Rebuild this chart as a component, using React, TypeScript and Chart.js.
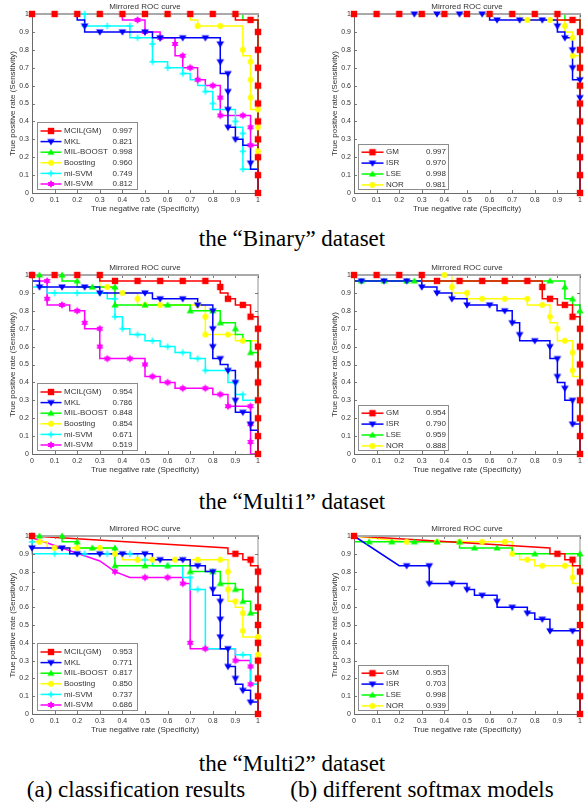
import React, { useEffect, useRef } from 'react';
import { Chart, registerables } from 'chart.js';
Chart.register(...registerables);

const SANS = '"Liberation Sans", Arial, Helvetica, sans-serif';
const SERIF = '"Liberation Serif", "Times New Roman", Times, serif';

// ---------- legends ----------
const methodsA = ['MCIL(GM)', 'MKL', 'MIL-BOOST', 'Boosting', 'mi-SVM', 'MI-SVM'];
const methodsB = ['GM', 'ISR', 'LSE', 'NOR'];
const colorsA = ['#ff0000', '#0000ff', '#00ff00', '#ffff00', '#00ffff', '#ff00ff'];
const colorsB = ['#ff0000', '#0000ff', '#00ff00', '#ffff00'];
const markersA = ['square', 'tdown', 'tup', 'circle', 'plus', 'hex'];
const markersB = ['square', 'tdown', 'tup', 'circle'];

const aucBinaryA = [0.997, 0.821, 0.998, 0.96, 0.749, 0.812];
const aucBinaryB = [0.997, 0.97, 0.998, 0.981];
const aucMulti1A = [0.954, 0.786, 0.848, 0.854, 0.671, 0.519];
const aucMulti1B = [0.954, 0.79, 0.959, 0.888];
const aucMulti2A = [0.953, 0.771, 0.817, 0.85, 0.737, 0.686];
const aucMulti2B = [0.953, 0.703, 0.998, 0.939];

const chartTitle = 'Mirrored ROC curve';
const xTitle = 'True negative rate (Specificity)';
const yTitle = 'True positive rate (Sensitivity)';

// ---------- Binary (a) : curve vertices [x,y,...] and marker points ----------
const binA_mcil = [0, 1, 0.9, 1, 0.9, 0.967, 1, 0.967, 1, 0];
const binA_mcil_m = [0, 1, 0.1, 1, 0.2, 1, 0.3, 1, 0.4, 1, 0.5, 1, 0.6, 1, 0.7, 1, 0.8, 1, 0.9, 1, 0.967, 0.967, 1, 0.9, 1, 0.8, 1, 0.7, 1, 0.6, 1, 0.5, 1, 0.4, 1, 0.3, 1, 0.2, 1, 0.1, 1, 0];
const binA_mkl = [0, 1, 0.2, 1, 0.2, 0.967, 0.233, 0.967, 0.233, 0.9, 0.533, 0.9, 0.533, 0.867, 0.833, 0.867, 0.833, 0.667, 0.867, 0.667, 0.867, 0.367, 0.9, 0.367, 0.9, 0.3, 0.933, 0.3, 0.933, 0.267, 0.967, 0.267, 0.967, 0.133, 1, 0.133, 1, 0];
const binA_mkl_m = [0.233, 0.933, 0.3, 0.9, 0.4, 0.9, 0.5, 0.9, 0.567, 0.867, 0.667, 0.867, 0.767, 0.867, 0.833, 0.833, 0.833, 0.733, 0.867, 0.667, 0.867, 0.567, 0.867, 0.467, 0.867, 0.367, 0.9, 0.3, 0.967, 0.167];
const binA_milb = [0, 1, 0.933, 1, 0.933, 0.967, 1, 0.967, 1, 0];
const binA_milb_m = [0.3, 1, 0.6, 1, 0.9, 1, 1, 0.6, 1, 0.3];
const binA_boost = [0, 1, 0.7, 1, 0.7, 0.967, 0.733, 0.967, 0.733, 0.933, 0.933, 0.933, 0.933, 0.767, 0.967, 0.767, 0.967, 0.467, 1, 0.467, 1, 0];
const binA_boost_m = [0.733, 0.933, 0.833, 0.933, 0.933, 0.8, 0.967, 0.733, 0.967, 0.633, 0.967, 0.533, 1, 0.467, 1, 0.367, 1, 0.233];
const binA_misvm = [0, 1, 0.233, 1, 0.233, 0.933, 0.433, 0.933, 0.433, 0.867, 0.533, 0.867, 0.533, 0.733, 0.6, 0.733, 0.6, 0.7, 0.667, 0.7, 0.667, 0.667, 0.7, 0.667, 0.7, 0.633, 0.733, 0.633, 0.733, 0.6, 0.767, 0.6, 0.767, 0.567, 0.8, 0.567, 0.8, 0.467, 0.9, 0.467, 0.9, 0.367, 0.933, 0.367, 0.933, 0.133, 1, 0.133, 1, 0];
const binA_misvm_m = [0.233, 1, 0.233, 0.933, 0.333, 0.933, 0.433, 0.933, 0.467, 0.867, 0.533, 0.833, 0.533, 0.733, 0.6, 0.7, 0.667, 0.667, 0.767, 0.567, 0.8, 0.5, 0.9, 0.4, 0.933, 0.333, 0.933, 0.233, 0.933, 0.133];
const binA_MIsvm = [0, 1, 0.4, 1, 0.4, 0.967, 0.5, 0.967, 0.5, 0.9, 0.567, 0.9, 0.567, 0.867, 0.633, 0.867, 0.633, 0.767, 0.667, 0.767, 0.667, 0.7, 0.733, 0.7, 0.733, 0.633, 0.767, 0.633, 0.767, 0.6, 0.833, 0.6, 0.833, 0.433, 0.967, 0.433, 0.967, 0.267, 1, 0.267, 1, 0];
const binA_MIsvm_m = [0.467, 0.967, 0.5, 0.9, 0.567, 0.867, 0.633, 0.833, 0.667, 0.767, 0.7, 0.7, 0.733, 0.633, 0.8, 0.6, 0.833, 0.533, 0.833, 0.433, 0.933, 0.433, 0.967, 0.367, 0.967, 0.267];

// ---------- Binary (b) ----------
const binB_gm = [0, 1, 0.9, 1, 0.9, 0.967, 1, 0.967, 1, 0];
const binB_gm_m = [0, 1, 0.1, 1, 0.2, 1, 0.3, 1, 0.4, 1, 0.5, 1, 0.6, 1, 0.7, 1, 0.8, 1, 0.9, 1, 0.967, 0.967, 1, 0.9, 1, 0.8, 1, 0.7, 1, 0.6, 1, 0.5, 1, 0.4, 1, 0.3, 1, 0.2, 1, 0.1, 1, 0];
const binB_isr = [0, 1, 0.6, 1, 0.6, 0.967, 0.9, 0.967, 0.9, 0.9, 0.933, 0.9, 0.933, 0.867, 0.967, 0.867, 0.967, 0.633, 1, 0.633, 1, 0];
const binB_isr_m = [0.267, 1, 0.367, 1, 0.467, 1, 0.567, 1, 0.633, 0.967, 0.733, 0.967, 0.833, 0.967, 0.9, 0.933, 0.933, 0.867, 0.967, 0.8, 0.967, 0.7, 1, 0.633, 1, 0.533];
const binB_lse = [0, 1, 0.933, 1, 0.933, 0.967, 1, 0.967, 1, 0];
const binB_lse_m = [0.3, 1, 0.6, 1, 1, 0.6, 1, 0.3];
const binB_nor = [0, 1, 0.733, 1, 0.733, 0.967, 0.933, 0.967, 0.933, 0.9, 0.967, 0.9, 0.967, 0.767, 1, 0.767, 1, 0];
const binB_nor_m = [0.767, 0.967, 0.867, 0.967, 0.933, 0.933, 0.967, 0.867, 0.967, 0.767];

// ---------- Multi1 (a) ----------
const m1A_mcil = [0, 1, 0.3, 1, 0.3, 0.967, 0.833, 0.967, 0.833, 0.9, 0.867, 0.9, 0.867, 0.867, 0.9, 0.867, 0.9, 0.833, 0.967, 0.833, 0.967, 0.767, 1, 0.767, 1, 0];
const m1A_mcil_m = [0, 1, 0.1, 1, 0.2, 1, 0.3, 1, 0.367, 0.967, 0.467, 0.967, 0.567, 0.967, 0.667, 0.967, 0.767, 0.967, 0.833, 0.933, 0.867, 0.867, 0.933, 0.833, 0.967, 0.767, 1, 0.7, 1, 0.6, 1, 0.5, 1, 0.4, 1, 0.3, 1, 0.2, 1, 0.1, 1, 0];
const m1A_mkl = [0, 0.967, 0.033, 0.967, 0.033, 0.933, 0.3, 0.933, 0.3, 0.9, 0.533, 0.9, 0.533, 0.867, 0.733, 0.867, 0.733, 0.833, 0.8, 0.833, 0.8, 0.533, 0.833, 0.533, 0.833, 0.5, 0.867, 0.5, 0.867, 0.467, 0.9, 0.467, 0.9, 0.233, 0.967, 0.233, 0.967, 0.133, 1, 0.133, 1, 0];
const m1A_mkl_m = [0.033, 0.933, 0.133, 0.933, 0.233, 0.933, 0.3, 0.9, 0.5, 0.9, 0.567, 0.867, 0.667, 0.867, 0.733, 0.833, 0.8, 0.8, 0.8, 0.7, 0.8, 0.6, 0.833, 0.533, 0.867, 0.467, 0.9, 0.4, 0.9, 0.3, 0.933, 0.233, 0.967, 0.167];
const m1A_milb = [0, 1, 0.133, 1, 0.133, 0.967, 0.2, 0.967, 0.2, 0.933, 0.367, 0.933, 0.367, 0.833, 0.7, 0.833, 0.7, 0.8, 0.833, 0.8, 0.833, 0.733, 0.9, 0.733, 0.9, 0.667, 0.933, 0.667, 0.933, 0.633, 0.967, 0.633, 0.967, 0.567, 1, 0.567, 1, 0];
const m1A_milb_m = [0.033, 1, 0.133, 1, 0.2, 0.967, 0.267, 0.933, 0.367, 0.933, 0.367, 0.833, 0.5, 0.833, 0.6, 0.833, 0.7, 0.8, 0.8, 0.8, 0.833, 0.733, 0.9, 0.7, 0.967, 0.567];
const m1A_boost = [0, 1, 0.3, 1, 0.3, 0.933, 0.367, 0.933, 0.367, 0.9, 0.467, 0.9, 0.467, 0.833, 0.767, 0.833, 0.767, 0.667, 0.9, 0.667, 0.9, 0.633, 1, 0.633, 1, 0];
const m1A_boost_m = [0.333, 0.933, 0.4, 0.9, 0.467, 0.867, 0.5, 0.833, 0.567, 0.833, 0.733, 0.833, 0.767, 0.767, 0.767, 0.667, 0.867, 0.667, 0.933, 0.633];
const m1A_misvm = [0, 0.933, 0.067, 0.933, 0.067, 0.9, 0.333, 0.9, 0.333, 0.867, 0.367, 0.867, 0.367, 0.767, 0.4, 0.767, 0.4, 0.7, 0.433, 0.7, 0.433, 0.667, 0.5, 0.667, 0.5, 0.633, 0.567, 0.633, 0.567, 0.6, 0.633, 0.6, 0.633, 0.567, 0.7, 0.567, 0.7, 0.533, 0.767, 0.533, 0.767, 0.467, 0.867, 0.467, 0.867, 0.4, 0.9, 0.4, 0.9, 0.333, 0.933, 0.333, 0.933, 0.3, 1, 0.3, 1, 0];
const m1A_misvm_m = [0.1, 0.9, 0.2, 0.9, 0.3, 0.9, 0.367, 0.867, 0.367, 0.767, 0.4, 0.7, 0.467, 0.667, 0.533, 0.633, 0.6, 0.6, 0.667, 0.567, 0.733, 0.533, 0.767, 0.467, 0.867, 0.467, 0.9, 0.4, 0.933, 0.333, 1, 0.3];
const m1A_MIsvm = [0, 1, 0.033, 1, 0.033, 0.967, 0.067, 0.967, 0.067, 0.833, 0.167, 0.833, 0.167, 0.8, 0.233, 0.8, 0.233, 0.7, 0.3, 0.7, 0.3, 0.533, 0.5, 0.533, 0.5, 0.433, 0.567, 0.433, 0.567, 0.4, 0.633, 0.4, 0.633, 0.367, 0.8, 0.367, 0.8, 0.333, 0.867, 0.333, 0.867, 0.267, 0.967, 0.267, 0.967, 0, 1, 0];
const m1A_MIsvm_m = [0, 1, 0.067, 0.967, 0.067, 0.867, 0.133, 0.833, 0.2, 0.8, 0.233, 0.733, 0.3, 0.7, 0.3, 0.6, 0.333, 0.533, 0.433, 0.533, 0.5, 0.5, 0.533, 0.433, 0.6, 0.4, 0.667, 0.367, 0.767, 0.367, 0.833, 0.333, 0.867, 0.267, 0.967, 0.267, 0.967, 0.167, 0.967, 0.067];

// ---------- Multi1 (b) ----------
const m1B_gm = [0, 1, 0.3, 1, 0.3, 0.967, 0.833, 0.967, 0.833, 0.867, 0.9, 0.867, 0.9, 0.833, 0.967, 0.833, 0.967, 0.767, 1, 0.767, 1, 0];
const m1B_gm_m = [0, 1, 0.1, 1, 0.2, 1, 0.3, 1, 0.367, 0.967, 0.467, 0.967, 0.567, 0.967, 0.667, 0.967, 0.767, 0.967, 0.833, 0.933, 0.867, 0.867, 0.933, 0.833, 0.967, 0.767, 1, 0.7, 1, 0.6, 1, 0.5, 1, 0.4, 1, 0.3, 1, 0.2, 1, 0.1, 1, 0];
const m1B_isr = [0, 0.967, 0.3, 0.967, 0.3, 0.933, 0.367, 0.933, 0.367, 0.9, 0.433, 0.9, 0.433, 0.867, 0.5, 0.867, 0.5, 0.833, 0.633, 0.833, 0.633, 0.8, 0.7, 0.8, 0.7, 0.733, 0.733, 0.733, 0.733, 0.633, 0.867, 0.633, 0.867, 0.533, 0.9, 0.533, 0.9, 0.4, 0.933, 0.4, 0.933, 0.3, 0.967, 0.3, 0.967, 0.167, 1, 0.167, 1, 0];
const m1B_isr_m = [0.033, 0.967, 0.133, 0.967, 0.233, 0.967, 0.3, 0.933, 0.367, 0.9, 0.433, 0.867, 0.5, 0.833, 0.6, 0.833, 0.667, 0.8, 0.7, 0.733, 0.733, 0.667, 0.8, 0.633, 0.867, 0.6, 0.9, 0.533, 0.9, 0.433, 0.933, 0.367, 0.967, 0.3, 0.967, 0.167];
const m1B_lse = [0, 0.967, 0.933, 0.967, 0.933, 0.867, 0.967, 0.867, 0.967, 0.833, 1, 0.833, 1, 0];
const m1B_lse_m = [0.033, 0.967, 0.133, 0.967, 0.233, 0.967, 0.267, 0.967, 0.867, 0.967, 0.933, 0.933, 0.967, 0.867, 1, 0.8];
const m1B_nor = [0, 1, 0.433, 1, 0.433, 0.9, 0.5, 0.9, 0.5, 0.867, 0.767, 0.867, 0.767, 0.833, 0.867, 0.833, 0.867, 0.733, 0.9, 0.733, 0.9, 0.633, 0.967, 0.633, 0.967, 0.433, 1, 0.433, 1, 0];
const m1B_nor_m = [0.4, 1, 0.433, 0.933, 0.5, 0.9, 0.567, 0.867, 0.667, 0.867, 0.767, 0.867, 0.833, 0.833, 0.867, 0.767, 0.9, 0.7, 0.933, 0.633, 0.967, 0.567, 0.967, 0.467];

// ---------- Multi2 (a) ----------
const m2A_mcil = [0, 1, 0.867, 0.933, 0.867, 0.9, 0.933, 0.9, 0.933, 0.867, 0.967, 0.867, 0.967, 0.833, 1, 0.833, 1, 0];
const m2A_mcil_m = [0, 1, 0.9, 0.9, 0.967, 0.867, 1, 0.8, 1, 0.7, 1, 0.6, 1, 0.5, 1, 0.4, 1, 0.3, 1, 0.2, 1, 0.1, 1, 0];
const m2A_mkl = [0, 0.933, 0.167, 0.933, 0.167, 0.9, 0.533, 0.9, 0.533, 0.867, 0.7, 0.867, 0.7, 0.833, 0.767, 0.833, 0.767, 0.8, 0.8, 0.8, 0.8, 0.667, 0.833, 0.667, 0.833, 0.367, 0.867, 0.367, 0.867, 0.267, 0.9, 0.267, 0.9, 0.167, 0.933, 0.167, 0.933, 0.133, 0.967, 0.133, 0.967, 0.067, 1, 0.067, 1, 0];
const m2A_mkl_m = [0, 0.933, 0.133, 0.933, 0.2, 0.9, 0.3, 0.9, 0.4, 0.9, 0.5, 0.9, 0.567, 0.867, 0.667, 0.867, 0.733, 0.833, 0.8, 0.8, 0.8, 0.7, 0.833, 0.633, 0.833, 0.533, 0.833, 0.433, 0.867, 0.367, 0.867, 0.267, 0.9, 0.2, 0.933, 0.133, 0.967, 0.067];
const m2A_milb = [0, 1, 0.133, 1, 0.133, 0.967, 0.2, 0.967, 0.2, 0.933, 0.367, 0.933, 0.367, 0.833, 0.7, 0.833, 0.7, 0.8, 0.833, 0.8, 0.833, 0.733, 0.9, 0.733, 0.9, 0.7, 0.933, 0.7, 0.933, 0.633, 0.967, 0.633, 0.967, 0.567, 1, 0.567, 1, 0];
const m2A_milb_m = [0.033, 1, 0.133, 1, 0.2, 0.967, 0.267, 0.933, 0.367, 0.933, 0.367, 0.833, 0.5, 0.833, 0.6, 0.833, 0.7, 0.8, 0.8, 0.8, 0.833, 0.733, 0.9, 0.7, 0.933, 0.633, 0.967, 0.567];
const m2A_boost = [0, 0.967, 0.067, 0.967, 0.067, 0.933, 0.367, 0.933, 0.367, 0.9, 0.4, 0.9, 0.4, 0.867, 0.867, 0.867, 0.867, 0.633, 0.9, 0.633, 0.9, 0.6, 0.933, 0.6, 0.933, 0.433, 1, 0.433, 1, 0];
const m2A_boost_m = [0.033, 0.967, 0.1, 0.933, 0.2, 0.933, 0.3, 0.933, 0.367, 0.9, 0.467, 0.867, 0.533, 0.867, 0.633, 0.867, 0.733, 0.867, 0.833, 0.867, 0.867, 0.8, 0.867, 0.7, 0.9, 0.633, 0.933, 0.567, 0.933, 0.467, 1, 0.433, 1, 0.333];
const m2A_misvm = [0, 0.967, 0, 0.9, 0.467, 0.9, 0.467, 0.867, 0.533, 0.867, 0.533, 0.833, 0.667, 0.833, 0.667, 0.767, 0.7, 0.767, 0.7, 0.7, 0.767, 0.7, 0.767, 0.367, 0.9, 0.367, 0.9, 0.333, 0.967, 0.333, 0.967, 0.167, 1, 0.167, 1, 0];
const m2A_misvm_m = [0, 0.967, 0.1, 0.9, 0.233, 0.9, 0.333, 0.9, 0.433, 0.9, 0.5, 0.867, 0.6, 0.833, 0.7, 0.767, 0.733, 0.7, 0.933, 0.333];
const m2A_MIsvm = [0, 0.99, 0.3, 0.86, 0.367, 0.8, 0.433, 0.767, 0.667, 0.767, 0.667, 0.733, 0.7, 0.733, 0.7, 0.367, 0.9, 0.367, 0.9, 0.3, 0.967, 0.3, 0.967, 0.167, 1, 0.167, 1, 0];
const m2A_MIsvm_m = [0, 1, 0.367, 0.8, 0.5, 0.767, 0.6, 0.767, 0.667, 0.733, 0.7, 0.4, 0.767, 0.367, 0.9, 0.3, 0.967, 0.267, 0.967, 0.167];

// ---------- Multi2 (b) ----------
const m2B_gm = [0, 1, 0.867, 0.933, 0.867, 0.9, 0.933, 0.9, 0.933, 0.867, 0.967, 0.867, 0.967, 0.833, 1, 0.833, 1, 0];
const m2B_gm_m = [0, 1, 0.9, 0.9, 0.967, 0.867, 1, 0.8, 1, 0.7, 1, 0.6, 1, 0.5, 1, 0.4, 1, 0.3, 1, 0.2, 1, 0.1, 1, 0];
const m2B_isr = [0, 1, 0.2, 0.833, 0.333, 0.833, 0.333, 0.733, 0.5, 0.733, 0.5, 0.7, 0.533, 0.7, 0.533, 0.667, 0.633, 0.667, 0.633, 0.6, 0.767, 0.6, 0.767, 0.567, 0.8, 0.567, 0.8, 0.533, 0.867, 0.533, 0.867, 0.467, 1, 0.467, 1, 0];
const m2B_isr_m = [0.233, 0.833, 0.333, 0.833, 0.333, 0.733, 0.433, 0.733, 0.5, 0.7, 0.567, 0.667, 0.633, 0.633, 0.7, 0.6, 0.767, 0.567, 0.833, 0.533, 0.867, 0.467, 0.967, 0.467];
const m2B_lse = [0, 0.967, 0.467, 0.967, 0.467, 0.933, 0.7, 0.933, 0.7, 0.9, 1, 0.9, 1, 0];
const m2B_lse_m = [0.067, 0.967, 0.167, 0.967, 0.267, 0.967, 0.367, 0.967, 0.467, 0.967, 0.533, 0.933, 0.633, 0.933, 0.8, 0.9, 1, 0.9];
const m2B_nor = [0, 1, 0.233, 0.967, 0.7, 0.967, 0.7, 0.9, 0.733, 0.9, 0.733, 0.867, 0.8, 0.867, 0.8, 0.833, 0.967, 0.833, 0.967, 0.733, 1, 0.733, 1, 0];
const m2B_nor_m = [0.233, 0.967, 0.367, 0.967, 0.467, 0.967, 0.567, 0.967, 0.667, 0.967, 0.7, 0.9, 0.767, 0.867, 0.833, 0.833, 0.933, 0.833, 0.967, 0.767];

// ---------- captions ----------
const datasetCaptions = ['the \u201cBinary\u201d dataset', 'the \u201cMulti1\u201d dataset', 'the \u201cMulti2\u201d dataset'];
const subCaptions = ['(a) classification results', '(b) different softmax models'];

type Panel = {
  left: number; top: number; w: number; h: number; padR: number;
  labels: string[]; colors: string[]; markers: string[]; auc: number[];
  curves: number[][][];
};

const panels: Panel[] = [
  { left: 32, top: 14, w: 226, h: 179, padR: 12, labels: methodsA, colors: colorsA, markers: markersA, auc: aucBinaryA,
    curves: [[binA_mcil, binA_mcil_m], [binA_mkl, binA_mkl_m], [binA_milb, binA_milb_m], [binA_boost, binA_boost_m], [binA_misvm, binA_misvm_m], [binA_MIsvm, binA_MIsvm_m]] },
  { left: 354, top: 14, w: 228, h: 179, padR: 2, labels: methodsB, colors: colorsB, markers: markersB, auc: aucBinaryB,
    curves: [[binB_gm, binB_gm_m], [binB_isr, binB_isr_m], [binB_lse, binB_lse_m], [binB_nor, binB_nor_m]] },
  { left: 32, top: 275, w: 226, h: 179, padR: 12, labels: methodsA, colors: colorsA, markers: markersA, auc: aucMulti1A,
    curves: [[m1A_mcil, m1A_mcil_m], [m1A_mkl, m1A_mkl_m], [m1A_milb, m1A_milb_m], [m1A_boost, m1A_boost_m], [m1A_misvm, m1A_misvm_m], [m1A_MIsvm, m1A_MIsvm_m]] },
  { left: 354, top: 275, w: 228, h: 179, padR: 2, labels: methodsB, colors: colorsB, markers: markersB, auc: aucMulti1B,
    curves: [[m1B_gm, m1B_gm_m], [m1B_isr, m1B_isr_m], [m1B_lse, m1B_lse_m], [m1B_nor, m1B_nor_m]] },
  { left: 32, top: 536, w: 226, h: 178, padR: 12, labels: methodsA, colors: colorsA, markers: markersA, auc: aucMulti2A,
    curves: [[m2A_mcil, m2A_mcil_m], [m2A_mkl, m2A_mkl_m], [m2A_milb, m2A_milb_m], [m2A_boost, m2A_boost_m], [m2A_misvm, m2A_misvm_m], [m2A_MIsvm, m2A_MIsvm_m]] },
  { left: 354, top: 536, w: 228, h: 178, padR: 2, labels: methodsB, colors: colorsB, markers: markersB, auc: aucMulti2B,
    curves: [[m2B_gm, m2B_gm_m], [m2B_isr, m2B_isr_m], [m2B_lse, m2B_lse_m], [m2B_nor, m2B_nor_m]] },
];

const PAD_TOP = 14;
const Y_AXIS_W = 32;
const X_AXIS_H = 24;

function pairs(a: number[]) {
  const out: { x: number; y: number }[] = [];
  for (let i = 0; i + 1 < a.length; i += 2) out.push({ x: a[i], y: a[i + 1] });
  return out;
}

function makeMarker(kind: string, color: string): HTMLCanvasElement {
  const c = document.createElement('canvas');
  c.width = 10; c.height = 10;
  const g = c.getContext('2d')!;
  const m = 5;
  g.fillStyle = color; g.strokeStyle = color;
  if (kind === 'square') {
    g.fillRect(m - 3.2, m - 3.2, 6.4, 6.4);
  } else if (kind === 'tdown') {
    g.beginPath(); g.moveTo(m - 3.8, m - 2.6); g.lineTo(m + 3.8, m - 2.6); g.lineTo(m, m + 3.7); g.closePath(); g.fill();
  } else if (kind === 'tup') {
    g.beginPath(); g.moveTo(m - 3.6, m + 2.6); g.lineTo(m + 3.6, m + 2.6); g.lineTo(m, m - 3.5); g.closePath(); g.fill();
  } else if (kind === 'circle') {
    g.beginPath(); g.arc(m, m, 2.9, 0, Math.PI * 2); g.fill();
  } else if (kind === 'plus') {
    g.lineWidth = 1.3;
    g.beginPath(); g.moveTo(m - 3.2, m); g.lineTo(m + 3.2, m); g.moveTo(m, m - 3.2); g.lineTo(m, m + 3.2); g.stroke();
    g.beginPath(); g.arc(m, m, 1.3, 0, Math.PI * 2); g.fill();
  } else if (kind === 'hex') {
    const r = 3.9;
    g.beginPath();
    for (let k = 0; k < 3; k++) {
      const ang = -Math.PI / 2 + (k * 2 * Math.PI) / 3;
      const px = m + r * Math.cos(ang), py = m + r * Math.sin(ang);
      if (k === 0) g.moveTo(px, py); else g.lineTo(px, py);
    }
    g.closePath();
    for (let k = 0; k < 3; k++) {
      const ang = Math.PI / 2 + (k * 2 * Math.PI) / 3;
      const px = m + r * Math.cos(ang), py = m + r * Math.sin(ang);
      if (k === 0) g.moveTo(px, py); else g.lineTo(px, py);
    }
    g.closePath();
    g.fill();
  }
  return c;
}

function makePanelPlugin(p: Panel, imgs: HTMLCanvasElement[]) {
  let frameDone = false;
  const drawFrame = (chart: any) => {
    const { ctx, chartArea: a } = chart;
    const xs = chart.scales.x, ys = chart.scales.y;
    ctx.save();
    ctx.strokeStyle = '#7a7a7a';
    ctx.lineWidth = 1;
    ctx.beginPath();
    xs.ticks.forEach((t: any) => {
      const px = Math.round(xs.getPixelForValue(t.value)) + 0.5;
      ctx.moveTo(px, a.bottom); ctx.lineTo(px, a.bottom - 3);
      ctx.moveTo(px, a.top); ctx.lineTo(px, a.top + 3);
    });
    ys.ticks.forEach((t: any) => {
      const py = Math.round(ys.getPixelForValue(t.value)) + 0.5;
      ctx.moveTo(a.left, py); ctx.lineTo(a.left + 3, py);
      ctx.moveTo(a.right, py); ctx.lineTo(a.right - 3, py);
    });
    ctx.stroke();
    ctx.strokeStyle = '#6a6a6a';
    ctx.beginPath();
    ctx.moveTo(a.left + 0.5, a.top);
    ctx.lineTo(a.left + 0.5, a.bottom + 0.5);
    ctx.lineTo(a.right, a.bottom + 0.5);
    ctx.stroke();
    ctx.strokeStyle = 'rgba(60,60,60,0.55)';
    ctx.beginPath();
    ctx.moveTo(a.right, a.top); ctx.lineTo(a.right, a.bottom);
    ctx.stroke();
    ctx.strokeStyle = '#a9a9a9';
    ctx.lineWidth = 2;
    ctx.beginPath();
    ctx.moveTo(a.left, a.top); ctx.lineTo(a.right + 1, a.top);
    ctx.stroke();
    ctx.restore();
  };
  const drawTexts = (chart: any) => {
    const { ctx, chartArea: a } = chart;
    ctx.save();
    ctx.fillStyle = '#333';
    ctx.font = `8px ${SANS}`;
    ctx.textAlign = 'center';
    ctx.textBaseline = 'middle';
    const cx = (a.left + a.right) / 2;
    ctx.fillText(chartTitle, cx, a.top - 7.5);
    ctx.fillText(xTitle, cx, a.bottom + 16);
    ctx.translate(a.left - 19, (a.top + a.bottom) / 2);
    ctx.rotate(-Math.PI / 2);
    ctx.fillText(yTitle, 0, 0);
    ctx.restore();
  };
  const drawLegend = (chart: any) => {
    const { ctx, chartArea: a } = chart;
    const six = p.labels.length === 6;
    const bw = six ? 100 : 90;
    const bh = six ? 67 : 45;
    const rowH = six ? 10.6 : 10.9;
    const bx = Math.round(a.left + (six ? 5 : 4)) + 0.5;
    const by = Math.round(a.bottom - 4 - bh) + 0.5;
    ctx.save();
    ctx.fillStyle = '#fff';
    ctx.fillRect(bx, by, bw, bh);
    ctx.strokeStyle = '#8c8c8c';
    ctx.lineWidth = 1;
    ctx.strokeRect(bx, by, bw, bh);
    ctx.font = `8px ${SANS}`;
    ctx.textBaseline = 'middle';
    p.labels.forEach((lab, i) => {
      const cy = by + (six ? 8.5 : 7.7) + i * rowH;
      const x0 = bx + 3, x1 = bx + (six ? 24 : 25);
      ctx.strokeStyle = p.colors[i];
      ctx.lineWidth = 1.5;
      ctx.beginPath(); ctx.moveTo(x0, cy); ctx.lineTo(x1, cy); ctx.stroke();
      ctx.drawImage(imgs[i], (x0 + x1) / 2 - 5, cy - 5);
      ctx.fillStyle = '#333';
      ctx.textAlign = 'left';
      ctx.fillText(lab, bx + (six ? 26.5 : 27.5), cy);
      ctx.textAlign = 'right';
      ctx.fillText(p.auc[i].toFixed(3), bx + bw - (six ? 5 : 2.5), cy);
    });
    ctx.restore();
  };
  return {
    id: 'rocPanel',
    beforeDatasetsDraw() { frameDone = false; },
    beforeDatasetDraw(chart: any, args: any) {
      if (!frameDone && chart.data.datasets[args.index].isMarker) { drawFrame(chart); frameDone = true; }
    },
    afterDatasetsDraw(chart: any) {
      if (!frameDone) { drawFrame(chart); frameDone = true; }
      drawLegend(chart);
      drawTexts(chart);
    },
  };
}

function RocPanel({ p }: { p: Panel }) {
  const ref = useRef<HTMLCanvasElement>(null);
  const cw = p.w + Y_AXIS_W + p.padR;
  const ch = p.h + PAD_TOP + X_AXIS_H;
  useEffect(() => {
    const canvas = ref.current;
    if (!canvas) return;
    const imgs = p.markers.map((m, i) => makeMarker(m, p.colors[i]));
    const datasets: any[] = [];
    p.curves.forEach((c, i) => {
      datasets.push({
        data: pairs(c[0]), showLine: true, borderColor: p.colors[i], backgroundColor: p.colors[i],
        borderWidth: 1.5, pointRadius: 0, pointHoverRadius: 0, tension: 0, fill: false,
        borderJoinStyle: 'miter', clip: false, order: 2, isMarker: false,
      });
    });
    p.curves.forEach((c, i) => {
      datasets.push({
        data: pairs(c[1]), showLine: false, pointStyle: imgs[i], pointRadius: 4, pointHoverRadius: 4,
        borderWidth: 0, backgroundColor: p.colors[i], borderColor: p.colors[i], clip: false, order: 1, isMarker: true,
      });
    });
    const tickFont = { family: SANS, size: 7 };
    const fmt = (v: any) => { const s = Number(v).toFixed(1); return s.endsWith('.0') ? s.slice(0, -2) : s; };
    const chart = new Chart(canvas, {
      type: 'scatter',
      data: { datasets },
      options: {
        animation: false,
        responsive: false,
        devicePixelRatio: 1,
        events: [],
        layout: { padding: { top: PAD_TOP, right: p.padR, left: 0, bottom: 0 } },
        plugins: { legend: { display: false }, tooltip: { enabled: false }, title: { display: false } },
        scales: {
          x: {
            type: 'linear', min: 0, max: 1,
            grid: { display: false, drawTicks: false },
            border: { display: false },
            ticks: { stepSize: 0.1, autoSkip: false, maxRotation: 0, padding: 2.5, font: tickFont, color: '#333', callback: fmt },
            afterFit: (s: any) => { s.height = X_AXIS_H; s.paddingLeft = 0; s.paddingRight = 0; },
          },
          y: {
            type: 'linear', min: 0, max: 1,
            grid: { display: false, drawTicks: false },
            border: { display: false },
            ticks: { stepSize: 0.1, autoSkip: false, padding: 3, font: tickFont, color: '#333', callback: fmt },
            afterFit: (s: any) => { s.width = Y_AXIS_W; s.paddingTop = 0; s.paddingBottom = 0; },
          },
        },
      } as any,
      plugins: [makePanelPlugin(p, imgs)],
    });
    return () => chart.destroy();
  }, []);
  return (
    <canvas
      ref={ref}
      width={cw}
      height={ch}
      style={{ position: 'absolute', left: p.left - Y_AXIS_W, top: p.top - PAD_TOP, width: cw, height: ch }}
    />
  );
}

const captionCenters = [239, 502, 764];

export default function App() {
  const capStyle: React.CSSProperties = {
    position: 'absolute', left: 0, width: 584, textAlign: 'center', fontFamily: SERIF,
    fontSize: 23, lineHeight: '26px', color: '#000', whiteSpace: 'nowrap',
  };
  return (
    <div style={{ position: 'absolute', left: 0, top: 0, width: 584, height: 805, background: '#fff', overflow: 'hidden' }}>
      {panels.map((p, i) => <RocPanel key={i} p={p} />)}
      {datasetCaptions.map((t, i) => (
        <div key={t} style={{ ...capStyle, top: captionCenters[i] - 13 }}>{t}</div>
      ))}
      <div style={{ ...capStyle, left: 0, width: 272, top: 790 - 13 }}>{subCaptions[0]}</div>
      <div style={{ ...capStyle, left: 272, width: 300, top: 790 - 13 }}>{subCaptions[1]}</div>
    </div>
  );
}
